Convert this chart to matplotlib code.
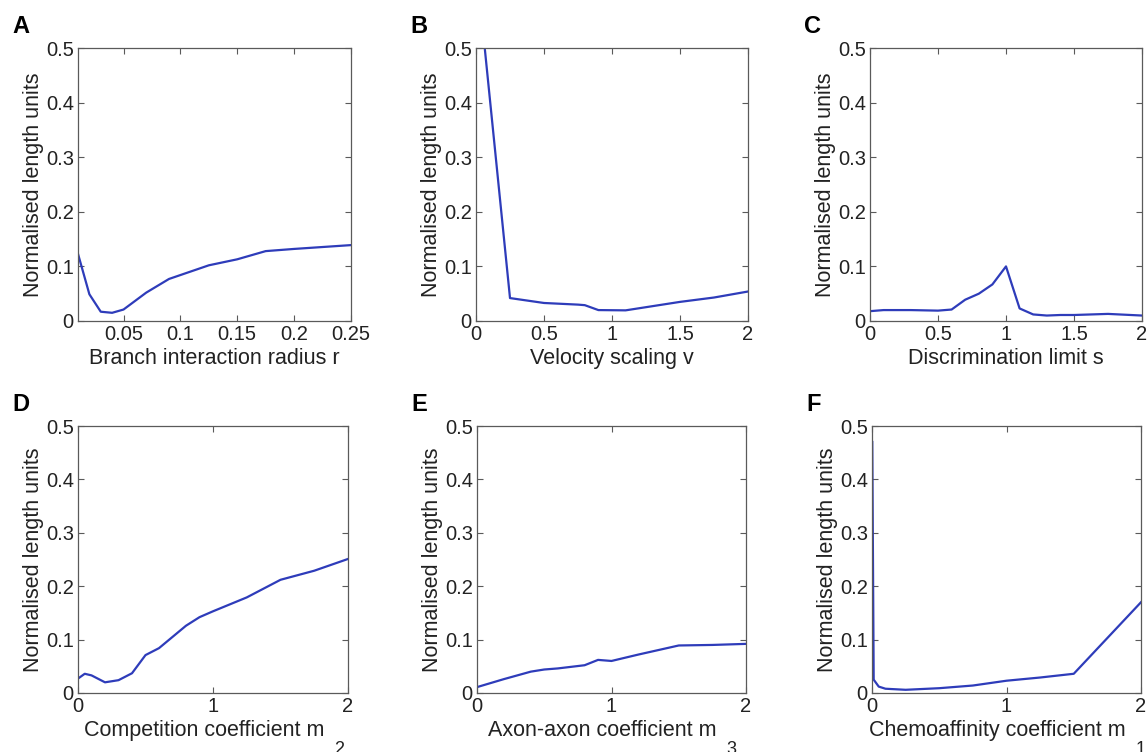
import numpy as np
import matplotlib
matplotlib.use('Agg')
import matplotlib.pyplot as plt

plt.rcParams['font.family'] = ['Liberation Sans', 'DejaVu Sans']

# Sweep results: normalised length units vs. each model parameter
r_vals = [0.01, 0.02, 0.03, 0.04, 0.05, 0.07, 0.09, 0.125, 0.15, 0.175, 0.2, 0.25]
r_len = [0.123, 0.049, 0.017, 0.015, 0.021, 0.052, 0.077, 0.102, 0.113, 0.128, 0.132, 0.139]

v_vals = [0.05, 0.25, 0.5, 0.75, 0.8, 0.9, 1.1, 1.5, 1.75, 2.0]
v_len = [0.535, 0.042, 0.033, 0.030, 0.029, 0.020, 0.0195, 0.035, 0.043, 0.054]

s_vals = [0, 0.1, 0.2, 0.3, 0.4, 0.5, 0.6, 0.7, 0.8, 0.9, 1.0, 1.1, 1.2, 1.3, 1.4, 1.5, 1.75, 2.0]
s_len = [0.018, 0.020, 0.020, 0.020, 0.0195, 0.019, 0.021, 0.039, 0.050, 0.067, 0.100,
         0.023, 0.012, 0.010, 0.011, 0.011, 0.013, 0.010]

m2_vals = [0, 0.05, 0.1, 0.2, 0.3, 0.4, 0.5, 0.6, 0.7, 0.8, 0.9, 1.0, 1.25, 1.5, 1.75, 2.0]
m2_len = [0.027, 0.036, 0.033, 0.020, 0.024, 0.037, 0.071, 0.084, 0.105, 0.126, 0.142,
          0.153, 0.179, 0.212, 0.229, 0.251]

m3_vals = [0, 0.2, 0.4, 0.5, 0.6, 0.8, 0.9, 1.0, 1.2, 1.5, 1.75, 2.0]
m3_len = [0.011, 0.026, 0.040, 0.044, 0.046, 0.052, 0.062, 0.060, 0.072, 0.089, 0.090, 0.092]

m1_vals = [0.002, 0.0125, 0.05, 0.1, 0.25, 0.5, 0.75, 1.0, 1.25, 1.5, 2.0]
m1_len = [0.47, 0.025, 0.012, 0.008, 0.006, 0.009, 0.014, 0.023, 0.029, 0.036, 0.170]

panels = [
    ('A', r_vals, r_len, 'Branch interaction radius r', None, (0.01, 0.25),
     [0.05, 0.1, 0.15, 0.2, 0.25], ['0.05', '0.1', '0.15', '0.2', '0.25']),
    ('B', v_vals, v_len, 'Velocity scaling v', None, (0, 2),
     [0, 0.5, 1, 1.5, 2], ['0', '0.5', '1', '1.5', '2']),
    ('C', s_vals, s_len, 'Discrimination limit s', None, (0, 2),
     [0, 0.5, 1, 1.5, 2], ['0', '0.5', '1', '1.5', '2']),
    ('D', m2_vals, m2_len, 'Competition coefficient m', '2', (0, 2),
     [0, 1, 2], ['0', '1', '2']),
    ('E', m3_vals, m3_len, 'Axon-axon coefficient m', '3', (0, 2),
     [0, 1, 2], ['0', '1', '2']),
    ('F', m1_vals, m1_len, 'Chemoaffinity coefficient m', '1', (0, 2),
     [0, 1, 2], ['0', '1', '2']),
]

W, H = 1147, 752
# axes boxes in pixels: left, top, right, bottom
boxes = [
    (78, 48, 351, 321), (476, 48, 748, 321), (870, 48, 1142, 321),
    (78, 426, 348, 693), (477, 426, 746, 693), (872, 426, 1141, 693),
]

fig = plt.figure(figsize=(W / 100, H / 100), dpi=100)
line_color = '#2e3cba'
spine_color = '#5a5a5a'
text_color = '#222222'

for (letter, xs, ys, xlabel, sub, xlim, xt, xtl), (l, t, r, b) in zip(panels, boxes):
    ax = fig.add_axes([l / W, 1 - b / H, (r - l) / W, (b - t) / H])
    ax.plot(xs, ys, color=line_color, lw=1.6, clip_on=True)
    ax.set_xlim(*xlim)
    ax.set_ylim(0, 0.5)
    ax.set_xticks(xt)
    ax.set_xticklabels(xtl)
    ax.set_yticks([0, 0.1, 0.2, 0.3, 0.4, 0.5])
    ax.set_yticklabels(['0', '0.1', '0.2', '0.3', '0.4', '0.5'])
    ax.tick_params(direction='in', length=4, width=0.8, top=True, right=True,
                   colors=spine_color, labelcolor=text_color, labelsize=14.5, pad=3)
    for sp in ax.spines.values():
        sp.set_color(spine_color)
        sp.set_linewidth(0.9)
    ax.set_ylabel('Normalised length units', fontsize=15.5, color=text_color, labelpad=1)
    ax.set_xlabel(xlabel, fontsize=15.5, color=text_color, labelpad=3)
    if sub is not None:
        # centre "label + subscript" as a whole under the axes
        ax.xaxis.label.set_x(0.5 - 9 / (r - l))
        ax.annotate(sub, xy=(1, 0), xycoords=ax.xaxis.label, xytext=(7, -12),
                    textcoords='offset points', fontsize=13, color=text_color,
                    ha='left', va='bottom')
    fig.text((l - 66) / W, 1 - (t - 15) / H, letter, fontsize=17, fontweight='bold',
             color='black', ha='left', va='baseline')

fig.savefig('out.png', dpi=100)
